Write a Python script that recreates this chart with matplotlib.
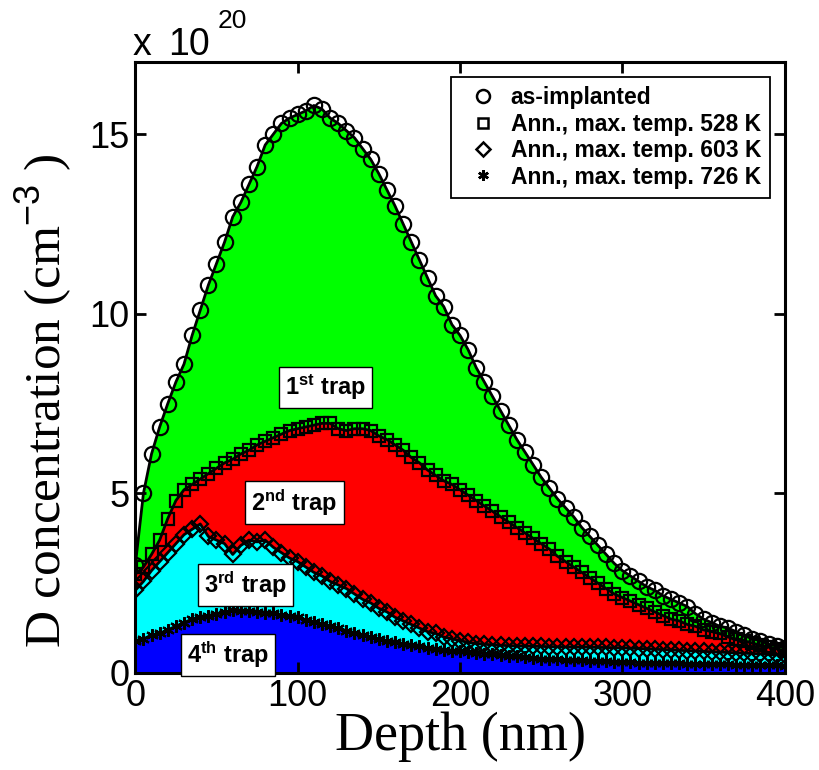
import matplotlib
matplotlib.use('Agg')
import matplotlib.pyplot as plt
from matplotlib.lines import Line2D

plt.rcParams['font.family'] = ['Liberation Sans', 'DejaVu Sans']
plt.rcParams['mathtext.fontset'] = 'custom'
plt.rcParams['mathtext.rm'] = 'Liberation Sans'
plt.rcParams['mathtext.bf'] = 'Liberation Sans:bold'
plt.rcParams['mathtext.it'] = 'Liberation Sans:italic'

# depth in nm, concentrations in units of 1e20 cm^-3
depth = list(range(0, 405, 5))

as_implanted = [3.0, 5.0, 6.1, 6.85, 7.5, 8.1, 8.6, 9.4, 10.1, 10.8,
                11.4, 12.0, 12.7, 13.1, 13.6, 14.1, 14.7, 15.0, 15.3, 15.45,
                15.55, 15.65, 15.8, 15.7, 15.45, 15.3, 15.1, 14.9, 14.6, 14.3,
                13.9, 13.45, 13.0, 12.5, 12.0, 11.5, 11.0, 10.5, 10.2, 9.7,
                9.4, 9.0, 8.5, 8.1, 7.7, 7.3, 6.9, 6.5, 6.15, 5.8,
                5.45, 5.15, 4.85, 4.6, 4.35, 4.05, 3.8, 3.55, 3.3, 3.05,
                2.85, 2.7, 2.55, 2.4, 2.3, 2.15, 2.05, 1.95, 1.85, 1.65,
                1.5, 1.4, 1.3, 1.25, 1.15, 1.05, 0.95, 0.9, 0.8, 0.75, 0.7]

ann_528 = [2.75, 2.95, 3.3, 3.7, 4.3, 4.8, 5.1, 5.25, 5.4, 5.55,
           5.7, 5.85, 5.95, 6.1, 6.2, 6.35, 6.45, 6.55, 6.65, 6.75,
           6.8, 6.85, 6.9, 6.95, 6.95, 6.8, 6.75, 6.8, 6.8, 6.75,
           6.6, 6.5, 6.35, 6.2, 6.0, 5.85, 5.65, 5.5, 5.35, 5.25,
           5.1, 4.95, 4.8, 4.65, 4.5, 4.35, 4.2, 4.05, 3.9, 3.75,
           3.6, 3.45, 3.25, 3.1, 2.95, 2.8, 2.65, 2.5, 2.35, 2.2,
           2.1, 2.0, 1.9, 1.8, 1.7, 1.6, 1.5, 1.45, 1.35, 1.3,
           1.2, 1.15, 1.1, 1.0, 0.95, 0.9, 0.83, 0.78, 0.72, 0.67, 0.62]

ann_603 = [2.3, 2.55, 2.85, 3.1, 3.35, 3.6, 3.85, 4.0, 4.15, 3.8,
           3.7, 3.6, 3.3, 3.55, 3.7, 3.65, 3.7, 3.5, 3.35, 3.2,
           3.1, 2.95, 2.8, 2.7, 2.55, 2.45, 2.35, 2.2, 2.05, 1.95,
           1.8, 1.7, 1.55, 1.45, 1.35, 1.25, 1.15, 1.1, 1.0, 0.95,
           0.9, 0.85, 0.82, 0.8, 0.78, 0.77, 0.76, 0.75, 0.75, 0.74,
           0.74, 0.73, 0.73, 0.72, 0.72, 0.72, 0.72, 0.71, 0.71, 0.7,
           0.7, 0.69, 0.68, 0.67, 0.66, 0.65, 0.64, 0.63, 0.62, 0.61,
           0.6, 0.59, 0.58, 0.57, 0.56, 0.55, 0.54, 0.53, 0.52, 0.51, 0.5]

ann_726 = [0.9, 0.95, 1.05, 1.1, 1.2, 1.3, 1.4, 1.5, 1.55, 1.6,
           1.65, 1.7, 1.75, 1.72, 1.72, 1.7, 1.68, 1.67, 1.62, 1.58,
           1.55, 1.48, 1.42, 1.36, 1.3, 1.24, 1.18, 1.12, 1.05, 1.0,
           0.95, 0.9, 0.85, 0.82, 0.78, 0.74, 0.7, 0.67, 0.64, 0.62,
           0.6, 0.58, 0.56, 0.54, 0.52, 0.5, 0.48, 0.46, 0.44, 0.42,
           0.4, 0.39, 0.38, 0.37, 0.36, 0.35, 0.34, 0.33, 0.32, 0.31,
           0.3, 0.3, 0.29, 0.29, 0.28, 0.28, 0.27, 0.27, 0.26, 0.26,
           0.25, 0.25, 0.24, 0.24, 0.23, 0.23, 0.22, 0.22, 0.21, 0.21, 0.2]

legend_labels = ['as-implanted', 'Ann., max. temp. 528 K',
                 'Ann., max. temp. 603 K', 'Ann., max. temp. 726 K']
trap_labels = [r'1$^{\mathbf{st}}$ trap', r'2$^{\mathbf{nd}}$ trap',
               r'3$^{\mathbf{rd}}$ trap', r'4$^{\mathbf{th}}$ trap']
trap_pos = [(117, 7.95), (98, 4.75), (68, 2.45), (57, 0.5)]

fig = plt.figure(figsize=(8.2, 7.7), dpi=100)
ax = fig.add_axes([0.165, 0.126, 0.792, 0.793])

# coloured trap areas
ax.fill_between(depth, ann_528, as_implanted, color='#00ff00', lw=0)
ax.fill_between(depth, ann_603, ann_528, color='#ff0000', lw=0)
ax.fill_between(depth, ann_726, ann_603, color='#00ffff', lw=0)
ax.fill_between(depth, 0, ann_726, color='#0000ff', lw=0)

markers = ['o', 's', 'D', (6, 2, 0)]
sizes = [11, 9, 8, 9]
series = [as_implanted, ann_528, ann_603, ann_726]
for s, m, ms in zip(series, markers, sizes):
    ax.plot(depth, s, color='black', lw=2)
    ax.plot(depth, s, ls='none', marker=m, ms=ms, mfc='none',
            mec='black', mew=1.6)

for lab, (x, y) in zip(trap_labels, trap_pos):
    ax.text(x, y, lab, fontsize=17, fontweight='bold', ha='center',
            va='center', bbox=dict(boxstyle='square,pad=0.25', fc='white',
                                   ec='black', lw=1))

handles = [Line2D([], [], ls='none', marker=m, ms=ms * 0.85, mfc='none',
                  mec='black', mew=1.8) for m, ms in zip(markers, sizes)]
leg = ax.legend(handles, legend_labels, loc='upper right',
                bbox_to_anchor=(0.978, 0.976), fancybox=False,
                edgecolor='black', framealpha=1, handletextpad=0.2,
                handlelength=2.0, borderpad=0.4, labelspacing=0.15,
                borderaxespad=0, prop={'weight': 'bold', 'size': 16.5})
leg.get_frame().set_linewidth(1.3)

ax.set_xlim(0, 400)
ax.set_ylim(0, 17)
ax.set_xticks([0, 100, 200, 300, 400])
ax.set_yticks([0, 5, 10, 15])
ax.tick_params(direction='in', length=8, width=2, labelsize=26,
               top=True, right=True, pad=4)
for sp in ax.spines.values():
    sp.set_linewidth(2.2)

ax.set_xlabel('Depth (nm)', family='Liberation Serif', fontsize=39,
              labelpad=-1.5)
ax.set_ylabel(r'D concentration (cm$^{-3}$ )', family='Liberation Serif',
              fontsize=37)
ax.yaxis.set_label_coords(-0.094, 0.446)

fig.text(0.162, 0.9286, 'x', fontsize=27)
fig.text(0.205, 0.9286, '10', fontsize=27)
fig.text(0.266, 0.9636, '20', fontsize=19)

fig.savefig('out.png', dpi=100)
